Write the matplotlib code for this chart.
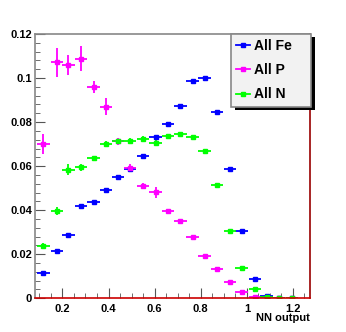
import matplotlib
matplotlib.use("Agg")
import matplotlib.pyplot as plt
from matplotlib.ticker import MultipleLocator
from matplotlib.lines import Line2D
from matplotlib.patches import Rectangle

plt.rcParams['font.family'] = ['Liberation Sans', 'DejaVu Sans']
plt.rcParams['font.weight'] = 'bold'

# bin centres
nn_bins = [0.117, 0.176, 0.226, 0.281, 0.335, 0.389, 0.441, 0.494, 0.550, 0.604,
           0.657, 0.712, 0.765, 0.817, 0.871, 0.926, 0.977, 1.035, 1.086, 1.140, 1.197]
half_width = 0.027

fe_vals = [0.0116, 0.0216, 0.0289, 0.0418, 0.0438, 0.0492, 0.0551, 0.0585, 0.0648, 0.0732,
           0.0791, 0.0874, 0.0985, 0.1000, 0.0844, 0.0585, 0.0307, 0.0086, 0.0012, 0.0003, 0.0]
fe_errs = [0.0006, 0.0006, 0.0007, 0.0008, 0.0008, 0.0008, 0.0008, 0.0008, 0.0008, 0.0008,
           0.0008, 0.0008, 0.0009, 0.0009, 0.0008, 0.0008, 0.0006, 0.0004, 0.0002, 0.0001, 0.0]

p_vals = [0.0701, 0.1071, 0.1060, 0.1088, 0.0959, 0.0870, 0.0712, 0.0593, 0.0510, 0.0482,
          0.0397, 0.0351, 0.0279, 0.0192, 0.0135, 0.0074, 0.0027, 0.0007, 0.0003, 0.0, 0.0]
p_errs = [0.0045, 0.0065, 0.0044, 0.0057, 0.0028, 0.0040, 0.0016, 0.0016, 0.0015, 0.0025,
          0.0010, 0.0009, 0.0008, 0.0007, 0.0006, 0.0005, 0.0003, 0.0002, 0.0001, 0.0, 0.0]

n_vals = [0.0238, 0.0398, 0.0583, 0.0595, 0.0636, 0.0701, 0.0712, 0.0716, 0.0724, 0.0707,
          0.0738, 0.0747, 0.0732, 0.0671, 0.0515, 0.0307, 0.0138, 0.0041, 0.0007, 0.0001, 0.0]
n_errs = [0.0012, 0.0018, 0.0025, 0.0015, 0.0012, 0.0015, 0.0012, 0.0012, 0.0012, 0.0010,
          0.0010, 0.0010, 0.0010, 0.0009, 0.0009, 0.0008, 0.0006, 0.0004, 0.0002, 0.0001, 0.0]

series = [("All Fe", fe_vals, fe_errs, "#0000ff"),
          ("All P", p_vals, p_errs, "#ff00ff"),
          ("All N", n_vals, n_errs, "#00ff00")]

W, H = 346, 332
fig = plt.figure(figsize=(3.46, 3.32), dpi=100)
ax = fig.add_axes([35/W, 1-298.3/H, 275/W, 264.3/H])

handles = []
for name, vals, errs, col in series:
    ax.errorbar(nn_bins, vals, xerr=half_width, yerr=errs, fmt='s', color=col,
                ms=3, elinewidth=1.3, capsize=0)
    handles.append(Line2D([], [], color=col, lw=1.3, marker='s', ms=3, label=name))

ax.set_xlim(0.081, 1.274)
ax.set_ylim(0, 0.12)
ax.xaxis.set_major_locator(MultipleLocator(0.2))
ax.xaxis.set_minor_locator(MultipleLocator(0.05))
ax.yaxis.set_major_locator(MultipleLocator(0.02))
ax.yaxis.set_minor_locator(MultipleLocator(0.004))
ax.tick_params(which='both', direction='in', labelsize=8, color='#555555')
ax.tick_params(which='major', length=7)
ax.tick_params(which='minor', length=3.5)
ax.tick_params(axis='x', pad=4)
ax.tick_params(axis='y', pad=2)
ax.set_xticks([0.2, 0.4, 0.6, 0.8, 1.0, 1.2])
ax.set_xticklabels(["0.2", "0.4", "0.6", "0.8", "1", "1.2"])
ax.set_yticks([0, 0.02, 0.04, 0.06, 0.08, 0.1, 0.12])
ax.set_yticklabels(["0", "0.02", "0.04", "0.06", "0.08", "0.1", "0.12"])

ax.spines['left'].set_color('#888888')
ax.spines['top'].set_color('#888888')
ax.spines['right'].set_color('#990000')
ax.spines['bottom'].set_color('#cc0000')
for s in ax.spines.values():
    s.set_linewidth(1.2)

fig.text(310/W, 1-321/H, "NN output", ha='right', va='baseline',
         fontsize=8, fontweight='bold')

# ROOT-style legend box with a hard black shadow
bx0, by0, bx1, by1 = 230.5, 33.5, 311, 106.5
fig.patches.append(Rectangle((bx0/W + 4/W, 1-(by1+4)/H), (bx1-bx0)/W, (by1-by0)/H,
                             transform=fig.transFigure, facecolor='black',
                             edgecolor='none', zorder=5))
fig.patches.append(Rectangle((bx0/W, 1-by1/H), (bx1-bx0)/W, (by1-by0)/H,
                             transform=fig.transFigure, facecolor='#f2f2f2',
                             edgecolor='#888888', lw=1.2, zorder=6))
leg = fig.legend(handles=handles, loc='upper left',
                 bbox_to_anchor=(232/W, 1-34.5/H), fontsize=10, frameon=False,
                 handlelength=1.0, handletextpad=0.25, labelspacing=0.75,
                 borderpad=0.3, borderaxespad=0)
leg.set_zorder(7)

fig.savefig("out.png", dpi=100)
